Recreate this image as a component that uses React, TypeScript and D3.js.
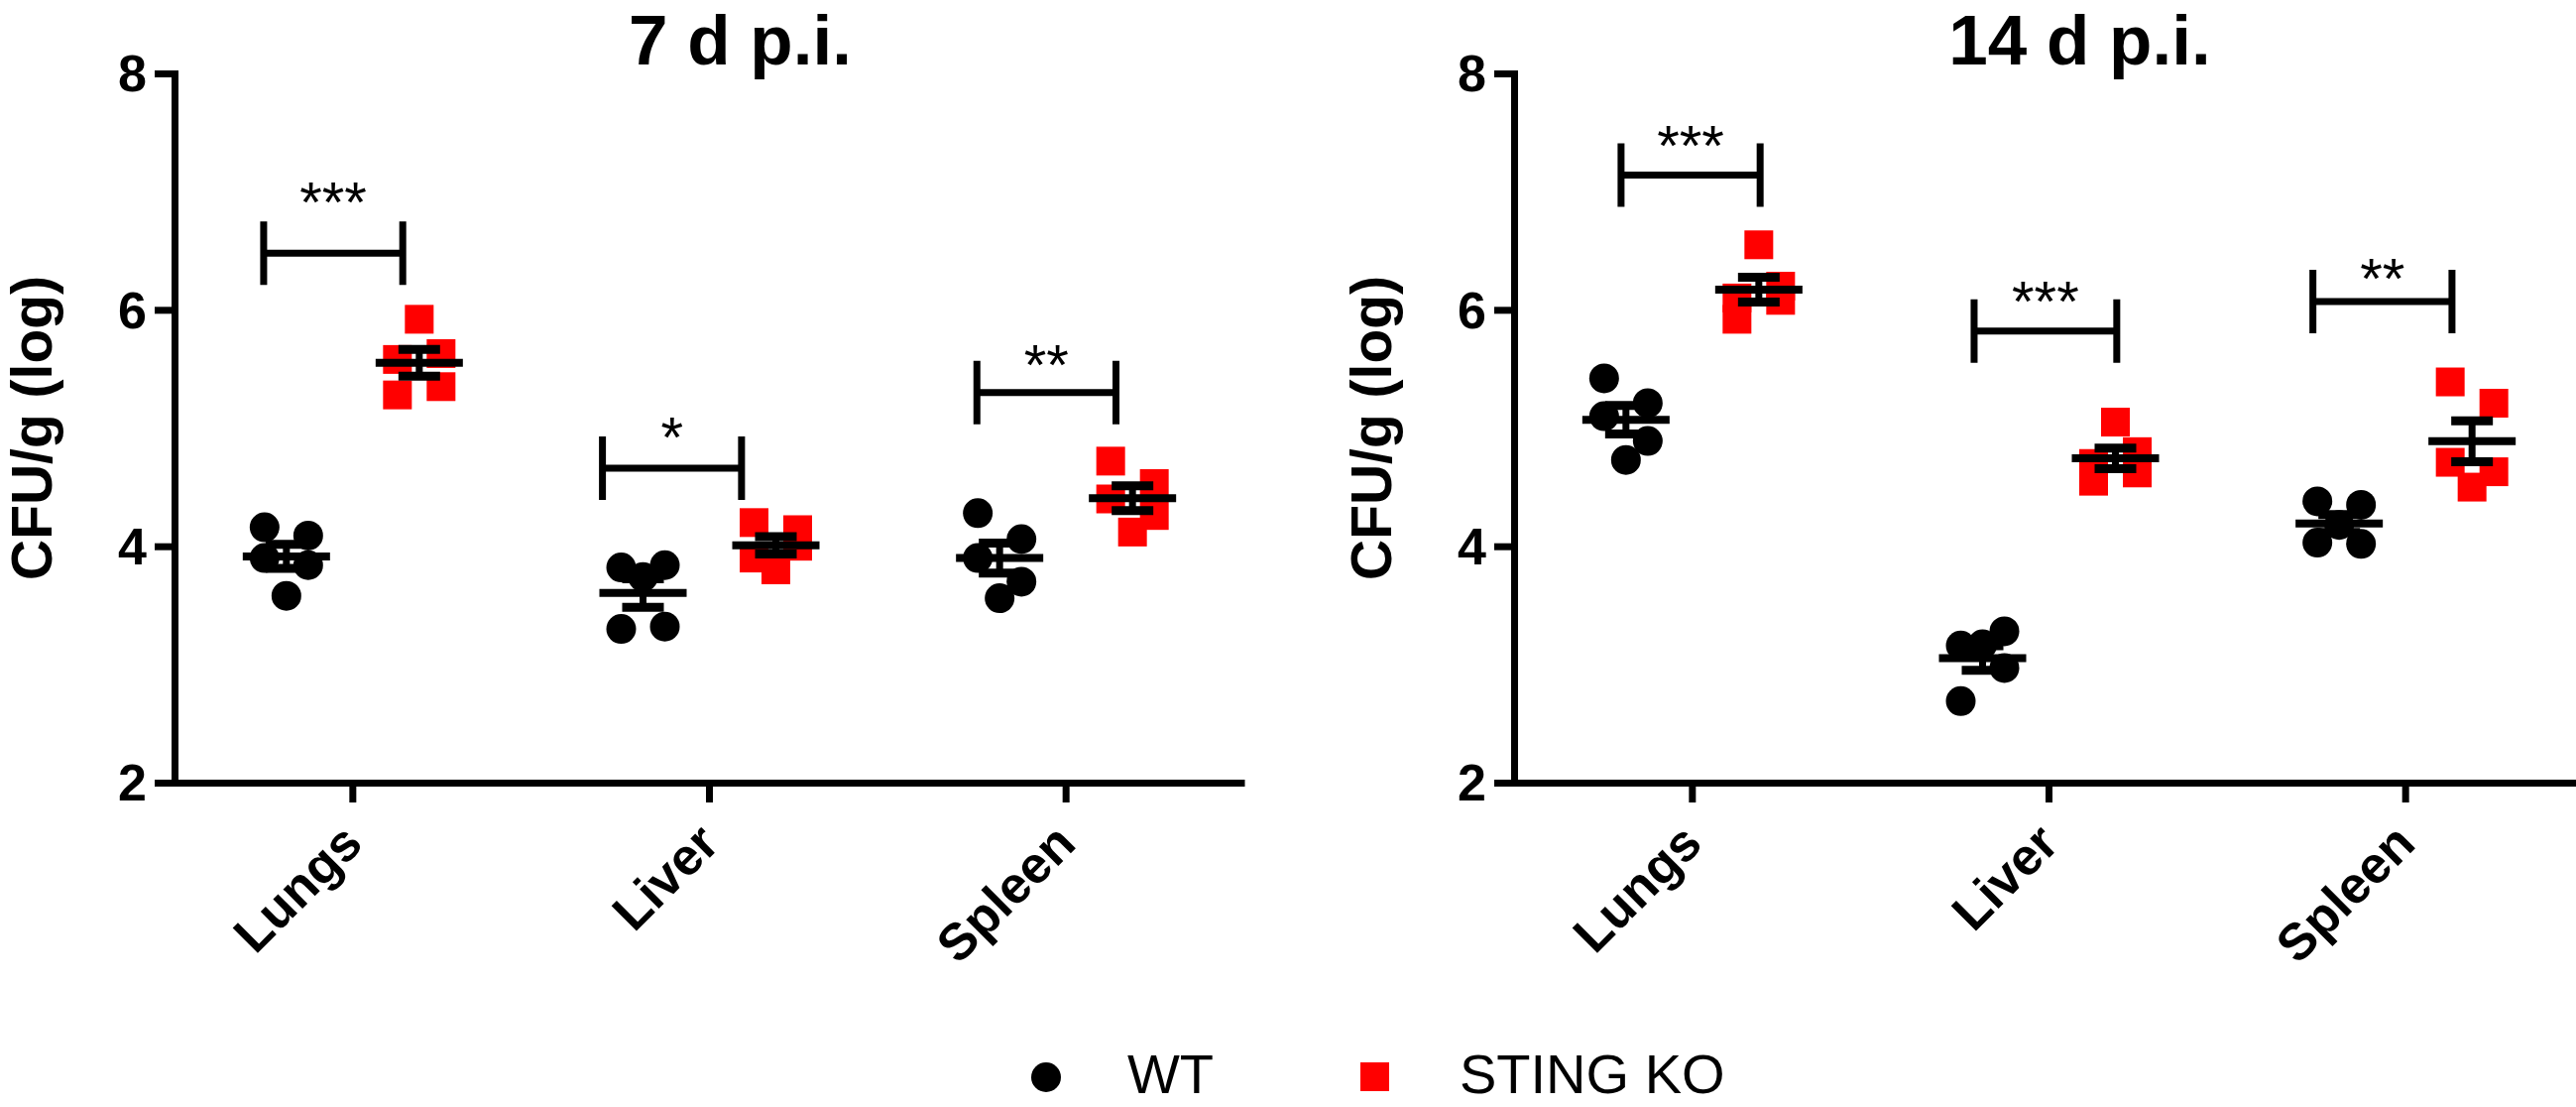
import * as d3 from 'd3';
import { useEffect, useRef } from 'react';

// categories and groups
const categories = ['Lungs', 'Liver', 'Spleen'];
const yTicks = [2, 4, 6, 8];
const groupNames = ['WT', 'STING KO'];

// CFU/g (log), 7 d p.i. (order of points follows the scatter arrangement)
const wt7Lungs = [4.16, 4.09, 3.9, 3.84, 3.58];
const wt7Liver = [3.82, 3.84, 3.3, 3.32, 3.74];
const wt7Spleen = [4.28, 4.06, 3.9, 3.7, 3.56];
const ko7Lungs = [5.58, 5.63, 5.28, 5.35, 5.92];
const ko7Liver = [4.2, 4.14, 3.9, 4.0, 3.8];
const ko7Spleen = [4.72, 4.53, 4.4, 4.26, 4.12];

// CFU/g (log), 14 d p.i.
const wt14Lungs = [5.42, 5.21, 5.1, 4.89, 4.73];
const wt14Liver = [3.16, 3.28, 2.69, 2.97, 3.17];
const wt14Spleen = [4.38, 4.35, 4.03, 4.02, 4.18];
const ko14Lungs = [6.1, 6.2, 5.92, 6.08, 6.55];
const ko14Liver = [4.7, 4.8, 4.55, 4.62, 5.05];
const ko14Spleen = [5.39, 5.21, 4.71, 4.63, 4.5];

// significance brackets: level of bar, level of stars (axis units), span as share of the category band
const sig7Labels = ['***', '*', '**'];
const sig7Levels = [6.48, 4.66, 5.3];
const sig7Stars = [6.94, 4.95, 5.57];
const sig7From = [-0.25, -0.3, -0.25];
const sig7To = [0.14, 0.09, 0.14];

const sig14Labels = ['***', '***', '**'];
const sig14Levels = [7.14, 5.82, 6.07];
const sig14Stars = [7.42, 6.1, 6.3];
const sig14From = [-0.2, -0.21, -0.26];
const sig14To = [0.19, 0.19, 0.13];

const W = 2598;
const H = 1116;
const FONT = "'Liberation Sans', Arial, Helvetica, sans-serif";

interface Panel {
  left: number;
  title: string;
  wt: number[][];
  ko: number[][];
  sigLabels: string[];
  sigLevels: number[];
  sigStars: number[];
  sigFrom: number[];
  sigTo: number[];
}

const drawPanel = (svg: d3.Selection<SVGSVGElement | null, unknown, null, undefined>, p: Panel) => {
  const plotW = 1079;
  const x = d3.scaleBand().domain(categories).range([p.left, p.left + plotW]).padding(0);
  const y = d3.scaleLinear().domain([2, 8]).range([789, 74]);
  const bw = x.bandwidth();
  const cx = (c: string) => x(c)! + bw / 2;
  const groupOff = 67;
  const spread = 22;
  const g = svg.append('g');

  // y axis
  const ya = g.append('g')
    .attr('transform', `translate(${p.left},0)`)
    .call(d3.axisLeft(y).tickValues(yTicks).tickSize(20).tickSizeOuter(0).tickPadding(8).tickFormat(d3.format('d')));
  ya.select('.domain').attr('stroke-width', 7).attr('stroke-linecap', 'square');
  ya.selectAll('.tick line').attr('stroke-width', 7);
  ya.selectAll('.tick text')
    .attr('font-family', FONT).attr('font-size', 52).attr('font-weight', 'bold').attr('fill', '#000')
    .attr('dy', '0.34em');

  // x axis
  const xa = g.append('g')
    .attr('transform', 'translate(0,789)')
    .call(d3.axisBottom(x).tickSize(20).tickSizeOuter(0));
  xa.select('.domain').attr('stroke-width', 7);
  xa.selectAll('.tick line').attr('stroke-width', 7);
  xa.selectAll('.tick text')
    .attr('font-family', FONT).attr('font-size', 52).attr('font-weight', 'bold').attr('fill', '#000')
    .attr('x', 0).attr('y', 0).attr('dy', 0)
    .attr('text-anchor', 'end')
    .attr('transform', 'translate(12,64) rotate(-45)');

  // axis title
  g.append('text')
    .attr('transform', `translate(${p.left - 124},${(y(2) + y(8)) / 2}) rotate(-90)`)
    .attr('text-anchor', 'middle')
    .attr('font-family', FONT).attr('font-size', 57).attr('font-weight', 'bold')
    .text('CFU/g (log)');

  // panel title
  g.append('text')
    .attr('x', p.left + plotW / 2 + 31).attr('y', 65)
    .attr('text-anchor', 'middle')
    .attr('font-family', FONT).attr('font-size', 71).attr('font-weight', 'bold')
    .text(p.title);

  const jitter = (i: number, n: number) => (n % 2 === 1 && i === n - 1 ? 0 : i % 2 === 0 ? -spread : spread);

  // points
  categories.forEach((c, ci) => {
    const wx = cx(c) - groupOff;
    const kx = cx(c) + groupOff;
    g.selectAll(null).data(p.wt[ci]).enter().append('circle')
      .attr('cx', (_, i) => wx + jitter(i, p.wt[ci].length))
      .attr('cy', d => y(d))
      .attr('r', 15)
      .attr('fill', '#000');
    g.selectAll(null).data(p.ko[ci]).enter().append('rect')
      .attr('x', (_, i) => kx + jitter(i, p.ko[ci].length) - 14.5)
      .attr('y', d => y(d) - 14.5)
      .attr('width', 29).attr('height', 29)
      .attr('fill', '#ff0000');
  });

  // mean and SEM
  categories.forEach((c, ci) => {
    [[p.wt[ci], cx(c) - groupOff], [p.ko[ci], cx(c) + groupOff]].forEach(([vals, gx]) => {
      const v = vals as number[];
      const px = gx as number;
      const m = d3.mean(v)!;
      const sem = d3.deviation(v)! / Math.sqrt(v.length);
      g.append('line').attr('x1', px - 44).attr('x2', px + 44).attr('y1', y(m)).attr('y2', y(m))
        .attr('stroke', '#000').attr('stroke-width', 8);
      g.append('line').attr('x1', px).attr('x2', px).attr('y1', y(m - sem)).attr('y2', y(m + sem))
        .attr('stroke', '#000').attr('stroke-width', 7);
      [m - sem, m + sem].forEach(e => {
        g.append('line').attr('x1', px - 21).attr('x2', px + 21).attr('y1', y(e)).attr('y2', y(e))
          .attr('stroke', '#000').attr('stroke-width', 9);
      });
    });
  });

  // significance brackets
  categories.forEach((c, ci) => {
    const xa0 = cx(c) + p.sigFrom[ci] * bw;
    const xb0 = cx(c) + p.sigTo[ci] * bw;
    const yl = y(p.sigLevels[ci]);
    g.append('path')
      .attr('d', `M${xa0},${yl - 32}V${yl + 32}M${xa0},${yl}H${xb0}M${xb0},${yl - 32}V${yl + 32}`)
      .attr('fill', 'none').attr('stroke', '#000').attr('stroke-width', 7);
    g.append('text')
      .attr('x', (xa0 + xb0) / 2).attr('y', y(p.sigStars[ci]) + 24)
      .attr('text-anchor', 'middle')
      .attr('font-family', FONT).attr('font-size', 58)
      .text(p.sigLabels[ci]);
  });
};

const App = () => {
  const ref = useRef<SVGSVGElement>(null);

  useEffect(() => {
    document.body.style.margin = '0';
    const svg = d3.select(ref.current);
    svg.selectAll('*').remove();

    drawPanel(svg, {
      left: 176,
      title: '7 d p.i.',
      wt: [wt7Lungs, wt7Liver, wt7Spleen],
      ko: [ko7Lungs, ko7Liver, ko7Spleen],
      sigLabels: sig7Labels, sigLevels: sig7Levels, sigStars: sig7Stars, sigFrom: sig7From, sigTo: sig7To,
    });
    drawPanel(svg, {
      left: 1527,
      title: '14 d p.i.',
      wt: [wt14Lungs, wt14Liver, wt14Spleen],
      ko: [ko14Lungs, ko14Liver, ko14Spleen],
      sigLabels: sig14Labels, sigLevels: sig14Levels, sigStars: sig14Stars, sigFrom: sig14From, sigTo: sig14To,
    });

    // legend
    const lg = svg.append('g');
    lg.append('circle').attr('cx', 1055).attr('cy', 1086).attr('r', 15).attr('fill', '#000');
    lg.append('text').attr('x', 1137).attr('y', 1102)
      .attr('font-family', FONT).attr('font-size', 56).text(groupNames[0]);
    lg.append('rect').attr('x', 1372).attr('y', 1071).attr('width', 29).attr('height', 29).attr('fill', '#ff0000');
    lg.append('text').attr('x', 1472).attr('y', 1102)
      .attr('font-family', FONT).attr('font-size', 56).text(groupNames[1]);
  }, []);

  return <svg ref={ref} width={W} height={H} style={{ display: 'block', background: '#fff' }} />;
};

export default App;
